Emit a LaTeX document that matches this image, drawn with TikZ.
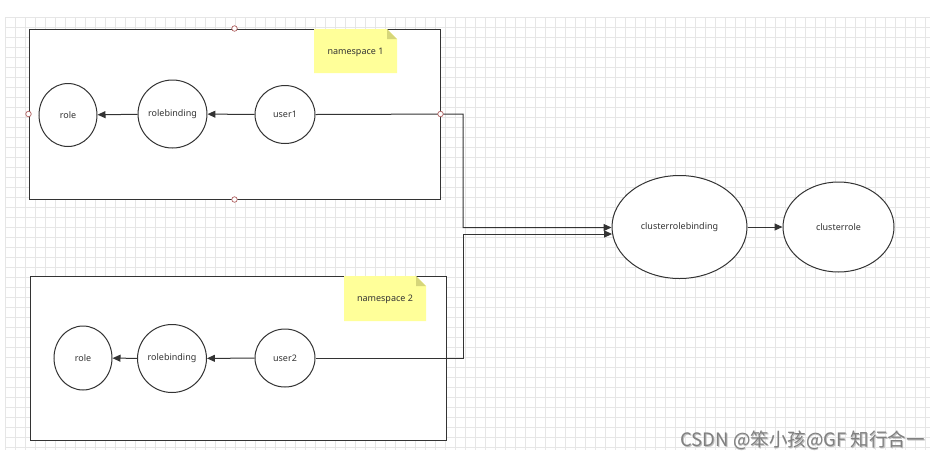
\documentclass[tikz,border=0pt]{standalone}
\usepackage{fontspec}
\setmainfont{Noto Sans}
\newfontfamily\cjkfont{Noto Sans CJK SC}
\usetikzlibrary{shapes.geometric,arrows.meta,calc}
\definecolor{linec}{HTML}{333333}
\definecolor{gridc}{HTML}{E6E6E6}
\definecolor{notec}{HTML}{FFFF99}
\definecolor{foldc}{HTML}{D6D67A}
\definecolor{handlec}{HTML}{B06060}
\tikzset{
  circ/.style={ellipse,draw=linec,line width=1pt,fill=white,inner sep=0pt,font=\fontsize{9}{11}\selectfont,text=black!80},
  nsbox/.style={rectangle,draw=linec,line width=1pt,fill=white,inner sep=0pt},
  arr/.style={draw=linec,line width=1pt,-{Triangle[length=8pt,width=7pt]}},
  handle/.style={circle,draw=handlec,fill=white,line width=0.7pt,minimum size=5.5pt,inner sep=0pt},
  notetext/.style={font=\fontsize{9}{11}\selectfont,text=black!80}
}
\begin{document}
\begin{tikzpicture}[x=1pt,y=-1pt]
\useasboundingbox (0,0) rectangle (935,459);
\fill[white] (0,0) rectangle (935,459);
% grid
\foreach \gx in {5,15,...,935} \draw[gridc,line width=0.5pt] (\gx,17) -- (\gx,450);
\foreach \gy in {17,27,...,450} \draw[gridc,line width=0.5pt] (5,\gy) -- (930,\gy);
% namespace boxes
\node[nsbox,minimum width=411pt,minimum height=170pt] (ns1) at (234.5,114) {};
\node[nsbox,minimum width=416pt,minimum height=164pt] (ns2) at (238,358) {};
% notes
\fill[notec] (314,29) -- (387,29) -- (397,39) -- (397,73) -- (314,73) -- cycle;
\fill[foldc] (387,29) -- (397,39) -- (387,39) -- cycle;
\node[notetext] (n1) at (355.5,52) {namespace 1};
\fill[notec] (344,276) -- (416,276) -- (426,286) -- (426,321) -- (344,321) -- cycle;
\fill[foldc] (416,276) -- (426,286) -- (416,286) -- cycle;
\node[notetext] (n2) at (385,299) {namespace 2};
% nodes namespace 1
\node[circ,minimum width=58pt,minimum height=63pt] (r1) at (68,115) {role};
\node[circ,minimum width=65pt,minimum height=68pt] (rb1) at (172.5,114) {rolebinding};
\node[circ,minimum width=60pt,minimum height=58pt] (u1) at (285,114.5) {user1};
% nodes namespace 2
\node[circ,minimum width=58pt,minimum height=64pt] (r2) at (83,358) {role};
\node[circ,minimum width=64pt,minimum height=68pt] (rb2) at (172,358.5) {rolebinding};
\node[circ,minimum width=60pt,minimum height=58pt] (u2) at (285,358) {user2};
% cluster nodes
\node[circ,minimum width=135pt,minimum height=103pt] (crb) at (679.5,227) {clusterrolebinding};
\node[circ,minimum width=111pt,minimum height=90pt] (cr) at (838.5,227) {clusterrole};
% arrows
\draw[arr] (u1) -- (rb1);
\draw[arr] (rb1) -- (r1);
\draw[arr] (u2) -- (rb2);
\draw[arr] (rb2) -- (r2);
\draw[arr] (crb) -- (cr);
\coordinate (k1) at (463,114);
\coordinate (k2) at (463,227.5);
\coordinate (k3) at (463,358);
\coordinate (k4) at (463,234);
\draw[arr] (u1.east) -- (k1) -- (k2) -- (k2 -| crb.west);
\draw[arr] (u2.east) -- (k3) -- (k4) -- ($(k4 -| crb.west)+(0.6,0)$);
% handles
\node[handle] (h1) at (ns1.north) {};
\node[handle] (h2) at (ns1.south) {};
\node[handle] (h3) at (ns1.west) {};
\node[handle] (h4) at (ns1.east) {};
% watermark
\node[font=\cjkfont\fontsize{18.5}{20}\selectfont,text=black!25,anchor=west] (wms) at (677.8,440.8) {CSDN @笨小孩@GF 知行合一};
\node[font=\cjkfont\fontsize{18.5}{20}\selectfont,text=black!50,anchor=west] (wm) at (677,440) {CSDN @笨小孩@GF 知行合一};
\end{tikzpicture}
\end{document}
